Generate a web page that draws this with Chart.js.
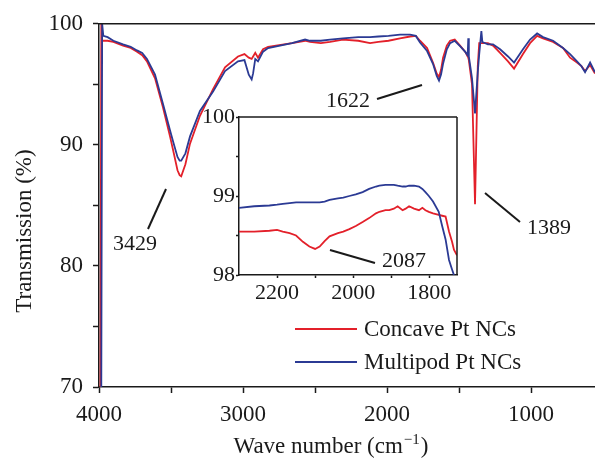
<!DOCTYPE html>
<html>
<head>
<meta charset="utf-8">
<script src="https://cdn.jsdelivr.net/npm/chart.js@4"></script>
<style>
  html, body { margin: 0; padding: 0; background: #fff; }
  #wrap { position: relative; width: 595px; height: 460px; }
  #main { position: absolute; left: 0; top: 0; }
  #inset { position: absolute; left: 190px; top: 100px; }
</style>
</head>
<body>
<div id="wrap">
  <canvas id="main" width="595" height="460"></canvas>
  <canvas id="inset" width="275" height="205"></canvas>
</div>
<script>
// FTIR spectra
const waveNumber = [
  3990, 3984, 3978, 3970, 3940, 3900, 3833, 3780, 3736, 3700, 3667, 3611, 3556,
  3507, 3486, 3455, 3440, 3429, 3400, 3368, 3299, 3208, 3125, 3035, 2990, 2960,
  2940, 2930, 2915, 2896, 2861, 2826, 2660, 2569, 2535, 2460, 2396, 2306, 2200,
  2118, 2060, 1990, 1910, 1840, 1800, 1771, 1722, 1681, 1655, 1639, 1625, 1611,
  1585, 1562, 1530, 1493, 1458, 1440, 1436, 1432, 1410, 1389, 1370, 1360, 1345,
  1338, 1300, 1264, 1215, 1160, 1118, 1056, 1007, 958, 917, 847, 778, 729, 681,
  650, 625, 590, 556
];
const concave = [
  70, 100, 98.6, 98.6, 98.6, 98.5, 98.2, 98.0, 97.7, 97.4, 96.9, 95.5, 93.1,
  90.7, 89.6, 87.9, 87.5, 87.4, 88.4, 90.1, 92.4, 94.6, 96.4, 97.3, 97.5, 97.2,
  97.1, 97.3, 97.6, 97.2, 97.9, 98.1, 98.4, 98.6, 98.5, 98.4, 98.5, 98.7, 98.6,
  98.4, 98.5, 98.6, 98.8, 98.95, 99.0, 98.6, 98.0, 96.8, 95.9, 95.6, 96.2, 97.2,
  98.2, 98.6, 98.7, 98.2, 97.7, 97.3, 97.2, 97.0, 95.0, 85.1, 96.5, 98.4, 98.4,
  98.4, 98.4, 98.2, 97.6, 96.9, 96.3, 97.5, 98.4, 99.0, 98.8, 98.5, 98.0, 97.2,
  96.8, 96.5, 96.1, 96.6, 95.9
];
const multipod = [
  70, 70, 100, 99.0, 98.9, 98.6, 98.3, 98.1, 97.8, 97.6, 97.1, 95.8, 93.4,
  91.2, 90.3, 89.0, 88.7, 88.7, 89.3, 90.7, 92.8, 94.4, 96.1, 96.9, 97.0, 95.8,
  95.4, 95.9, 97.1, 96.9, 97.7, 98.0, 98.4, 98.7, 98.6, 98.6, 98.7, 98.8, 98.9,
  98.9, 98.95, 99.0, 99.1, 99.1, 99.0, 98.45, 97.75, 96.7, 95.7, 95.3, 95.8, 96.7,
  97.9, 98.4, 98.6, 98.15, 97.7, 97.4, 98.8, 97.3, 95.5, 92.6, 96.0, 97.5, 99.4,
  98.5, 98.3, 98.3, 97.9, 97.3, 96.8, 97.9, 98.7, 99.2, 98.9, 98.6, 98.0, 97.5,
  96.9, 96.5, 96.0, 96.8, 96.0
];
const xTicks = [4000, 3500, 3000, 2500, 2000, 1500, 1000];
const yTicks = [70, 75, 80, 85, 90, 95, 100];

// inset: 2300-1727 cm-1
const insetWave = [
  2300, 2260, 2220, 2200, 2185, 2167, 2150, 2132, 2115, 2100, 2088, 2075, 2062,
  2040, 2026, 2010, 1993, 1975, 1958, 1940, 1931, 1915, 1905, 1893, 1883, 1870,
  1862, 1853, 1840, 1827, 1818, 1810, 1801, 1790, 1775, 1766, 1757, 1748, 1740,
  1735, 1727
];
const insetConcave = [
  98.55, 98.55, 98.56, 98.57, 98.55, 98.53, 98.50, 98.42, 98.36, 98.33, 98.36, 98.43, 98.49,
  98.53, 98.55, 98.58, 98.62, 98.67, 98.72, 98.78, 98.80, 98.82, 98.82, 98.84, 98.87, 98.82,
  98.84, 98.87, 98.84, 98.82, 98.85, 98.82, 98.80, 98.78, 98.76, 98.75, 98.74, 98.55, 98.42,
  98.32, 98.25
];
const insetMultipod = [
  98.85, 98.87, 98.88, 98.89, 98.90, 98.91, 98.92, 98.92, 98.92, 98.92, 98.92, 98.93, 98.95,
  98.97, 98.98, 99.00, 99.02, 99.05, 99.09, 99.12, 99.13, 99.14, 99.14, 99.14, 99.13, 99.12,
  99.12, 99.13, 99.13, 99.12, 99.09, 99.05, 99.00, 98.93, 98.80, 98.62, 98.45, 98.19, 98.07,
  98.00, 97.90
];
const insetXTicks = [2200, 2100, 2000, 1900, 1800];
const insetYTicks = [98, 98.5, 99, 99.5, 100];

const RED = '#e3202a';
const BLUE = '#2b3a94';
const INK = '#1a1a1a';
const SERIF = "'Liberation Serif', 'DejaVu Serif', serif";

const pts = (xs, ys) => xs.map((x, i) => ({ x, y: ys[i] }));

function line(ctx, x1, y1, x2, y2, w) {
  ctx.beginPath();
  ctx.moveTo(x1, y1);
  ctx.lineTo(x2, y2);
  ctx.lineWidth = w;
  ctx.strokeStyle = INK;
  ctx.stroke();
}

const mainDecor = {
  id: 'mainDecor',
  afterDraw(chart) {
    const { ctx, chartArea: a } = chart;
    ctx.save();
    // top frame
    line(ctx, a.left, a.top, a.right, a.top, 1.5);

    // peak labels
    ctx.fillStyle = INK;
    ctx.font = `22px ${SERIF}`;
    ctx.textAlign = 'center';
    ctx.textBaseline = 'middle';
    ctx.fillText('3429', 135, 244);
    ctx.fillText('1622', 348, 101);
    ctx.fillText('1389', 549, 228);
    line(ctx, 148, 229, 166, 189, 2);
    line(ctx, 377, 99, 422, 85, 2);
    line(ctx, 485, 193, 520, 222, 2);

    // legend
    ctx.font = `23px ${SERIF}`;
    ctx.textAlign = 'left';
    [['Concave Pt NCs', RED, 329], ['Multipod Pt NCs', BLUE, 362]].forEach(([txt, col, y]) => {
      ctx.beginPath();
      ctx.moveTo(295, y);
      ctx.lineTo(357, y);
      ctx.strokeStyle = col;
      ctx.lineWidth = 2;
      ctx.stroke();
      ctx.fillText(txt, 364, y + 1);
    });

    // axis titles
    ctx.textBaseline = 'alphabetic';
    const p1 = 'Wave number (cm';
    const sup = '\u22121';
    const p2 = ')';
    ctx.font = `23px ${SERIF}`;
    const w1 = ctx.measureText(p1).width;
    const w3 = ctx.measureText(p2).width;
    ctx.font = `15px ${SERIF}`;
    const w2 = ctx.measureText(sup).width;
    const x0 = 330 - (w1 + w2 + w3) / 2;
    ctx.font = `23px ${SERIF}`;
    ctx.fillText(p1, x0, 453);
    ctx.font = `15px ${SERIF}`;
    ctx.fillText(sup, x0 + w1 + 1, 444);
    ctx.font = `23px ${SERIF}`;
    ctx.fillText(p2, x0 + w1 + w2 + 2, 453);

    ctx.translate(25, 231);
    ctx.rotate(-Math.PI / 2);
    ctx.textAlign = 'center';
    ctx.textBaseline = 'middle';
    ctx.fillText('Transmission (%)', 0, 0);
    ctx.restore();
  }
};

new Chart(document.getElementById('main'), {
  type: 'line',
  data: {
    datasets: [
      { label: 'Concave Pt NCs', data: pts(waveNumber, concave), borderColor: RED, borderWidth: 1.8, pointRadius: 0, tension: 0, order: 1 },
      { label: 'Multipod Pt NCs', data: pts(waveNumber, multipod), borderColor: BLUE, borderWidth: 1.8, pointRadius: 0, tension: 0, order: 0 }
    ]
  },
  options: {
    responsive: false,
    animation: false,
    events: [],
    layout: { padding: { top: 19, right: 0, left: 0, bottom: 0 } },
    plugins: { legend: { display: false }, tooltip: { enabled: false } },
    scales: {
      x: {
        type: 'linear',
        reverse: true,
        min: 556,
        max: 4000,
        afterBuildTicks: s => { s.ticks = xTicks.map(v => ({ value: v })); },
        afterFit: s => { s.height = 73; },
        ticks: {
          callback: v => (v % 1000 === 0 ? v : ''),
          font: { family: SERIF, size: 23 },
          color: INK,
          padding: 8,
          maxRotation: 0,
          autoSkip: false
        },
        grid: { drawOnChartArea: false, tickLength: 6, tickColor: INK, tickWidth: 1.5 },
        border: { color: INK, width: 1.5 }
      },
      y: {
        min: 70,
        max: 100,
        afterBuildTicks: s => { s.ticks = yTicks.map(v => ({ value: v })); },
        afterFit: s => { s.width = 99; },
        ticks: {
          callback: v => (v % 10 === 0 ? v : ''),
          font: { family: SERIF, size: 23 },
          color: INK,
          padding: 10,
          autoSkip: false
        },
        grid: { drawOnChartArea: false, tickLength: 6, tickColor: INK, tickWidth: 1.5 },
        border: { color: INK, width: 1.5 }
      }
    }
  },
  plugins: [mainDecor]
});

const insetDecor = {
  id: 'insetDecor',
  afterDraw(chart) {
    const { ctx, chartArea: a } = chart;
    ctx.save();
    line(ctx, a.left, a.top, a.right, a.top, 1.5);
    line(ctx, a.right, a.top, a.right, a.bottom, 1.5);
    ctx.fillStyle = INK;
    ctx.font = `22px ${SERIF}`;
    ctx.textAlign = 'center';
    ctx.textBaseline = 'middle';
    ctx.fillText('2087', 214, 161);
    line(ctx, 140, 150, 185, 163, 2);
    ctx.restore();
  }
};

new Chart(document.getElementById('inset'), {
  type: 'line',
  data: {
    datasets: [
      { label: 'Concave Pt NCs', data: pts(insetWave, insetConcave), borderColor: RED, borderWidth: 1.8, pointRadius: 0, tension: 0, order: 1 },
      { label: 'Multipod Pt NCs', data: pts(insetWave, insetMultipod), borderColor: BLUE, borderWidth: 1.8, pointRadius: 0, tension: 0, order: 0 }
    ]
  },
  options: {
    responsive: false,
    animation: false,
    events: [],
    layout: { padding: { top: 17, right: 8, left: 0, bottom: 0 } },
    plugins: { legend: { display: false }, tooltip: { enabled: false } },
    scales: {
      x: {
        type: 'linear',
        reverse: true,
        min: 1727,
        max: 2300,
        afterBuildTicks: s => { s.ticks = insetXTicks.map(v => ({ value: v })); },
        afterFit: s => { s.height = 30; },
        ticks: {
          callback: v => (v % 200 === 0 ? v : ''),
          font: { family: SERIF, size: 22 },
          color: INK,
          padding: 2,
          maxRotation: 0,
          autoSkip: false
        },
        grid: { drawOnChartArea: false, tickLength: 3, tickColor: INK, tickWidth: 1.5 },
        border: { color: INK, width: 1.5 }
      },
      y: {
        min: 98,
        max: 100,
        afterBuildTicks: s => { s.ticks = insetYTicks.map(v => ({ value: v })); },
        afterFit: s => { s.width = 49; },
        ticks: {
          callback: v => (Number.isInteger(v) ? v : ''),
          font: { family: SERIF, size: 22 },
          color: INK,
          padding: 1,
          autoSkip: false
        },
        grid: { drawOnChartArea: false, tickLength: 3, tickColor: INK, tickWidth: 1.5 },
        border: { color: INK, width: 1.5 }
      }
    }
  },
  plugins: [insetDecor]
});
</script>
</body>
</html>
